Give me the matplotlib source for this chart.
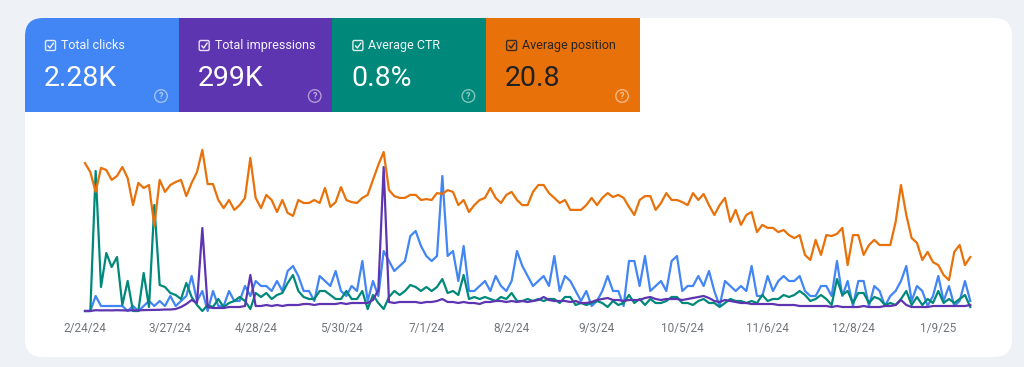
import matplotlib
matplotlib.use("Agg")
import matplotlib.pyplot as plt
import pandas as pd
from matplotlib.patches import FancyBboxPatch, Rectangle, Circle

plt.rcParams['font.family'] = ['Roboto', 'DejaVu Sans']

# ---- data (one point every 2 days) ----
dates = pd.date_range("2024-02-24", periods=167, freq="2D")

clicks = [0, 0, 3, 1, 1, 1, 1, 1, 0, 1,
          0, 1, 2, 1, 2, 1, 3, 1, 2, 3,
          7, 2, 4, 0, 4, 1, 1, 4, 2, 2,
          5, 3, 6, 5, 5, 4, 6, 4, 8, 9,
          7, 4, 4, 2, 7, 6, 5, 8, 4, 3,
          5, 4, 10, 2, 6, 3, 12, 10, 8, 9,
          10, 15, 16, 13, 11, 10, 11, 27, 11, 12,
          6, 13, 4, 4, 5, 6, 4, 7, 5, 4,
          6, 12, 9, 7, 5, 6, 7, 5, 11, 4,
          7, 6, 4, 2, 4, 1, 2, 4, 7, 4,
          4, 1, 10, 10, 5, 11, 4, 5, 6, 4,
          10, 11, 4, 5, 5, 7, 5, 8, 4, 1,
          6, 5, 4, 5, 4, 9, 3, 3, 7, 4,
          6, 7, 6, 6, 7, 4, 3, 3, 5, 5,
          3, 10, 3, 6, 1, 6, 6, 1, 5, 4,
          1, 3, 4, 6, 9, 2, 5, 4, 1, 3,
          7, 2, 5, 1, 2, 6, 2]

impressions = [0, 0, 80, 60, 70, 60, 80, 60, 50, 70,
               60, 90, 100, 110, 120, 150, 150, 200, 400, 700,
               1100, 800, 8300, 400, 300, 300, 300, 400, 400, 400,
               500, 3600, 500, 500, 600, 500, 600, 500, 600, 600,
               600, 700, 700, 600, 700, 700, 700, 700, 800, 700,
               800, 800, 800, 800, 1100, 2100, 14400, 900, 800, 900,
               900, 900, 900, 800, 900, 900, 1000, 1200, 900, 900,
               800, 900, 800, 800, 700, 900, 900, 1000, 1000, 900,
               1000, 900, 1000, 900, 1000, 1100, 1400, 1100, 1000, 1000,
               1000, 900, 1000, 800, 800, 900, 1100, 1200, 1300, 1100,
               1100, 1000, 1100, 1100, 1100, 1300, 1400, 1200, 1100, 1200,
               1200, 1200, 1100, 1200, 1300, 1400, 1500, 1300, 1000, 900,
               1100, 1000, 900, 800, 800, 700, 700, 700, 700, 700,
               600, 600, 600, 600, 500, 500, 500, 500, 500, 500,
               400, 500, 400, 400, 400, 400, 500, 400, 400, 400,
               500, 500, 600, 1100, 600, 400, 400, 400, 400, 500,
               500, 500, 500, 500, 500, 500, 600]

ctr = [0, 0, 7.0, 1.2, 2.9, 2.2, 2.7, 0.3, 1.5, 0,
       0, 1.9, 0.2, 5.3, 1.3, 1.2, 0.9, 0.8, 0.6, 1.4,
       0.7, 0.3, 0, 0.3, 0.2, 0.6, 0.2, 0.4, 0.5, 0.7,
       0.5, 0.1, 0.9, 0.7, 0.9, 0.6, 0.8, 0.9, 1.4, 1.8,
       1.0, 0.7, 0.6, 0.6, 1.0, 1.0, 0.8, 0.6, 0.6, 1.0,
       0.6, 0.6, 1.0, 0.1, 0.8, 0.4, 0.1, 0.7, 1.0, 0.8,
       1.0, 1.3, 1.2, 1.0, 1.2, 1.0, 1.2, 1.6, 0.9, 1.0,
       0.8, 1.8, 0.6, 0.7, 0.6, 0.7, 0.6, 0.5, 0.7, 0.6,
       0.9, 0.5, 0.5, 0.6, 0.5, 0.6, 0.5, 0.6, 0.6, 0.4,
       0.7, 0.7, 0.3, 0.4, 0.3, 0.4, 0.5, 0.4, 0.2, 0.5,
       0.3, 0.4, 0.8, 0.4, 0.6, 0.3, 0.6, 0.4, 0.4, 0.5,
       0.7, 0.7, 0.4, 0.4, 0.3, 0.5, 0.6, 0.4, 0.4, 0.2,
       0.4, 0.6, 0.5, 0.5, 0.4, 0.5, 0.4, 0.8, 0.5, 0.6,
       0.6, 0.8, 0.7, 0.8, 1.0, 0.8, 0.5, 0.6, 0.8, 0.6,
       0.3, 1.6, 0.8, 1.0, 0.4, 0.9, 0.9, 0.4, 0.7, 0.6,
       0.3, 0.4, 0.3, 0.6, 1.0, 0.3, 0.7, 0.3, 0.6, 0.4,
       1.0, 0.4, 0.6, 0.4, 0.6, 0.8, 0.2]

position = [5.7, 8.7, 15.3, 7.3, 8.0, 11.3, 10.0, 7.0, 10.7, 19.7,
            12.3, 14.0, 13.0, 26.7, 11.3, 15.3, 13.0, 12.0, 11.3, 16.7,
            12.3, 8.7, 1.3, 12.7, 12.7, 18.0, 20.7, 18.0, 21.3, 19.7,
            17.3, 4.0, 17.3, 20.7, 16.3, 18.0, 22.0, 18.0, 22.3, 23.3,
            18.0, 19.0, 19.0, 18.0, 19.0, 14.0, 20.3, 18.7, 13.7, 18.0,
            18.7, 19.0, 17.3, 16.3, 11.3, 6.3, 2.0, 14.7, 16.7, 17.3,
            17.3, 16.3, 16.3, 18.0, 17.7, 18.0, 15.7, 16.0, 14.7, 15.3,
            19.7, 18.0, 22.0, 19.7, 18.0, 17.3, 14.0, 17.3, 19.0, 16.3,
            15.3, 18.0, 19.7, 19.7, 15.3, 13.0, 13.0, 15.7, 17.3, 19.0,
            18.0, 21.3, 21.3, 21.3, 19.7, 17.3, 19.7, 17.3, 15.7, 17.0,
            16.3, 17.3, 20.3, 23.0, 18.0, 16.7, 16.7, 21.3, 19.0, 15.7,
            18.0, 18.0, 18.7, 19.7, 15.7, 18.0, 16.0, 19.7, 23.0, 19.7,
            17.3, 25.3, 21.3, 26.3, 23.0, 22.0, 28.7, 26.3, 27.3, 27.3,
            28.7, 28.0, 29.7, 30.7, 29.7, 36.3, 38.0, 31.3, 36.3, 29.7,
            30.0, 29.3, 27.3, 39.7, 29.7, 29.7, 36.3, 33.0, 31.3, 33.0,
            33.0, 33.0, 25.3, 13.0, 23.0, 30.7, 32.3, 38.0, 35.3, 38.7,
            39.7, 43.0, 44.7, 35.3, 33.0, 39.7, 37.0]

tick_dates = pd.date_range("2024-02-24", periods=11, freq="32D")
tick_labels = ["2/24/24", "3/27/24", "4/28/24", "5/30/24", "7/1/24", "8/2/24",
               "9/3/24", "10/5/24", "11/6/24", "12/8/24", "1/9/25"]

metric_names = ["Total clicks", "Total impressions", "Average CTR", "Average position"]
metric_totals = ["2.28K", "299K", "0.8%", "20.8"]
metric_colors = ["#4285f4", "#5e35b1", "#00897b", "#e8710a"]
text_colors = ["white", "white", "white", "#202124"]

W, H = 1024, 367
fig = plt.figure(figsize=(W / 100, H / 100), dpi=100)
fig.patch.set_facecolor("#eef2f7")

# background layer in pixel coords: card + metric tiles
bg = fig.add_axes([0, 0, 1, 1], zorder=0)
bg.set_xlim(0, W)
bg.set_ylim(H, 0)
bg.axis("off")

bg.add_patch(FancyBboxPatch((25, 18), 987, 339, boxstyle="round,pad=0,rounding_size=18",
                            fc="white", ec="none"))

tile_w, tile_h = 153.7, 94
for i, (name, total, col, tcol) in enumerate(zip(metric_names, metric_totals,
                                                  metric_colors, text_colors)):
    x0 = 25 + i * tile_w
    if i == 0:
        bg.add_patch(FancyBboxPatch((x0, 18), tile_w, tile_h,
                                    boxstyle="round,pad=0,rounding_size=18", fc=col, ec="none"))
        bg.add_patch(Rectangle((x0 + 30, 18), tile_w - 30, tile_h, fc=col, ec="none"))
        bg.add_patch(Rectangle((x0, 50), tile_w, tile_h - 32, fc=col, ec="none"))
    else:
        bg.add_patch(Rectangle((x0, 18), tile_w + 0.5, tile_h, fc=col, ec="none"))

    # checkbox
    bg.add_patch(FancyBboxPatch((x0 + 20.5, 40.5), 10, 10, boxstyle="round,pad=0,rounding_size=1.5",
                                fc="none", ec=tcol, lw=1.0, alpha=0.85))
    bg.plot([x0 + 23, x0 + 25, x0 + 28.5], [45.8, 48, 43], color=tcol, lw=1.0, alpha=0.9,
            solid_capstyle="round")
    bg.text(x0 + 36, 45.5, name, color=tcol, fontsize=9, va="center", ha="left", alpha=0.95)
    bg.text(x0 + 19, 86, total, color=tcol, fontsize=20.5, va="baseline", ha="left")

    # help icon (always light)
    bg.add_patch(Circle((x0 + 136, 96), 6.3, fc="none", ec="white", lw=1.0, alpha=0.5))
    bg.text(x0 + 136, 96.5, "?", color="white", fontsize=6.5, ha="center", va="center",
            alpha=0.6, fontweight="bold")

# chart axes (one per metric, each with its own scale like Search Console)
left, right, base, top = 85, 970.3, 311, 146
rect = [left / W, (H - base) / H, (right - left) / W, (base - top) / H]

series = [(clicks, (0, 33)), (ctr, (0, 8.25)), (impressions, (0, 16500)), (position, (55, 0))]
series_colors = [metric_colors[0], metric_colors[2], metric_colors[1], metric_colors[3]]

for j, ((vals, lim), col) in enumerate(zip(series, series_colors)):
    ax = fig.add_axes(rect, zorder=2 + j)
    ax.patch.set_alpha(0)
    ax.plot(dates, vals, color=col, lw=1.6, clip_on=False, solid_joinstyle="round")
    ax.set_ylim(*lim)
    ax.set_xlim(dates[0], dates[-1])
    for s in ax.spines.values():
        s.set_visible(False)
    ax.set_yticks([])
    if j == 0:
        ax.set_xticks(tick_dates)
        ax.set_xticklabels(tick_labels, fontsize=8.5, color="#70757a")
        ax.tick_params(axis="x", length=0, pad=8)
    else:
        ax.set_xticks([])

fig.savefig("out.png", dpi=100, facecolor=fig.get_facecolor())
